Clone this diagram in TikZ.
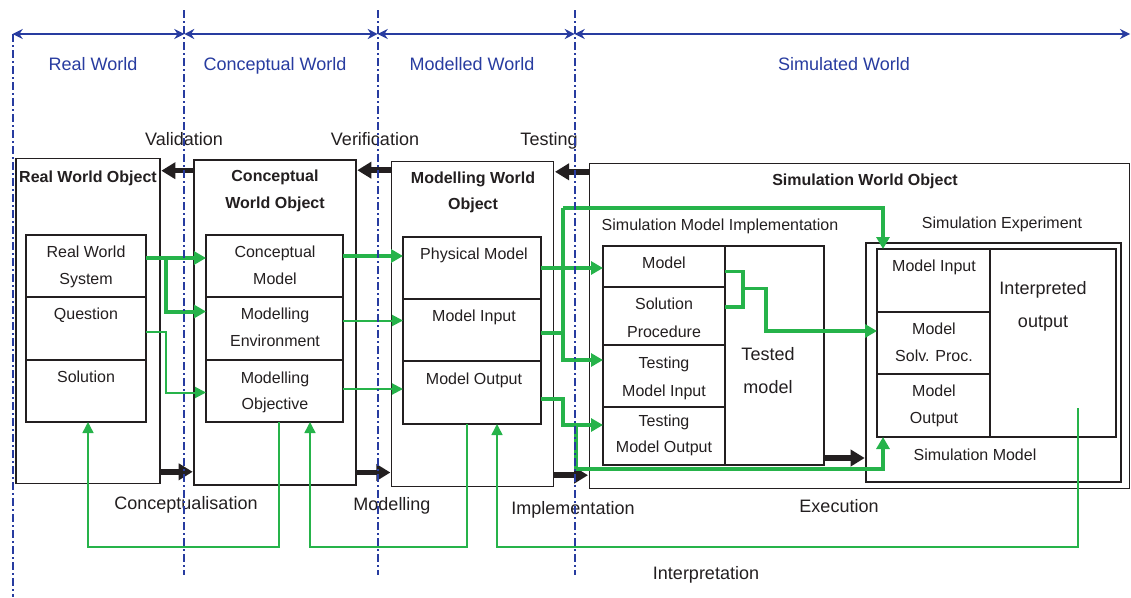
\documentclass[tikz,border=0pt]{standalone}
\usepackage{fontspec}
\setmainfont{Liberation Sans}
\usetikzlibrary{arrows.meta}
\definecolor{wblue}{RGB}{40,60,160}
\definecolor{wgreen}{RGB}{38,179,74}
\definecolor{ink}{RGB}{35,31,32}
\tikzset{
 bx/.style={draw=ink, line width=1.3pt, inner sep=0pt, outer sep=0pt, fill=white},
 lbl/.style={inner sep=0pt, anchor=base, text=ink, yshift=-5.7pt, font=\fontsize{16}{19}\selectfont},
 big/.style={inner sep=0pt, anchor=base, text=ink, yshift=-6.5pt, font=\fontsize{18}{21}\selectfont},
 bold/.style={lbl, font=\fontsize{16}{19}\selectfont\bfseries},
 world/.style={big, text=wblue},
 divider/.style={draw=wblue, line width=1.8pt, dash pattern=on 8pt off 3pt on 2pt off 3pt},
 span/.style={draw=wblue, line width=1.8pt, {Stealth[length=10pt,width=10pt]}-{Stealth[length=10pt,width=10pt]}},
 flow/.style={draw=ink, line width=5.5pt, -{Triangle[length=14pt,width=16pt,sep=1.3pt]}},
 gthick/.style={draw=wgreen, line width=4pt, -{Triangle[length=12pt,width=13pt]}},
 gmid/.style={draw=wgreen, line width=3.2pt, -{Triangle[length=12pt,width=13pt]}},
 gthin/.style={draw=wgreen, line width=2pt, -{Triangle[length=11pt,width=11pt]}},
 gfine/.style={draw=wgreen, line width=1.5pt, -{Triangle[length=11pt,width=11pt]}},
}
\newcommand\bxn[5]{\node[bx, minimum width={#4pt-#2pt}, minimum height={#5pt-#3pt}] (#1) at ({(#2+#4)/2},{(#3+#5)/2}) {};}
\begin{document}
\begin{tikzpicture}[x=1pt,y=-1pt]
\useasboundingbox[fill=white] (0,0) rectangle (1131,597);

% ---- world boxes
\bxn{rwo}{16}{158.3}{160}{483.3}
\bxn{cwo}{194}{160}{356}{485}
\bxn{mwo}{391.7}{161.7}{553.7}{486.7}
\bxn{swo}{589.3}{163.3}{1129.3}{488.3}

% Real world cells
\bxn{rws}{26}{235}{146}{297}
\bxn{rq}{26}{297}{146}{360}
\bxn{rs}{26}{360}{146}{422}
% Conceptual cells
\bxn{cm}{206}{235}{343}{297}
\bxn{me}{206}{297}{343}{360}
\bxn{mo}{206}{360}{343}{422}
% Modelling cells
\bxn{pm}{403}{237}{541}{299}
\bxn{mi}{403}{299}{541}{361}
\bxn{mou}{403}{361}{541}{424}
% Simulation implementation
\bxn{tm}{603}{246}{824}{465}
\bxn{smm}{603}{246}{725}{287}
\bxn{ssp}{603}{287}{725}{345}
\bxn{stmi}{603}{345}{725}{407}
\bxn{stmo}{603}{407}{725}{465}
% Simulation experiment
\bxn{se}{866}{243}{1121}{482}
\bxn{smo}{877}{249}{1116}{437}
\bxn{smi}{877}{249}{990}{312}
\bxn{sms}{877}{312}{990}{374}
\bxn{smout}{877}{374}{990}{437}

% ---- titles
\node[bold] (trwo) at (88,177) {Real World Object};
\node[bold] (tcwo1) at (275,176) {Conceptual};
\node[bold] (tcwo2) at (275,203) {World Object};
\node[bold] (tmwo1) at (473,178) {Modelling World};
\node[bold] (tmwo2) at (473,204) {Object};
\node[bold] (tswo) at (865,180) {Simulation World Object};

% ---- cell texts
\node[lbl] (t1) at (86,252) {Real World};
\node[lbl] (t2) at (86,279) {System};
\node[lbl] (t3) at (86,314) {Question};
\node[lbl] (t4) at (86,377) {Solution};
\node[lbl] (t5) at (275,252) {Conceptual};
\node[lbl] (t6) at (275,279) {Model};
\node[lbl] (t7) at (275,314) {Modelling};
\node[lbl] (t8) at (275,341) {Environment};
\node[lbl] (t9) at (275,378) {Modelling};
\node[lbl] (t10) at (275,404) {Objective};
\node[lbl] (t11) at (474,254) {Physical Model};
\node[lbl] (t12) at (474,316) {Model Input};
\node[lbl] (t13) at (474,379) {Model Output};
\node[lbl] (t14) at (720,225) {Simulation Model Implementation};
\node[lbl] (t15) at (664,263) {Model};
\node[lbl] (t16) at (664,304) {Solution};
\node[lbl] (t17) at (664,332) {Procedure};
\node[lbl] (t18) at (664,363) {Testing};
\node[lbl] (t19) at (664,391) {Model Input};
\node[lbl] (t20) at (664,421) {Testing};
\node[lbl] (t21) at (664,447) {Model Output};
\node[big] (t22) at (768,354) {Tested};
\node[big] (t23) at (768,387) {model};
\node[lbl] (t24) at (1002,223) {Simulation Experiment};
\node[lbl] (t25) at (934,266) {Model Input};
\node[lbl] (t26) at (934,329) {Model};
\node[lbl] (t27) at (934,356) {Solv. Proc.};
\node[lbl] (t28) at (934,391) {Model};
\node[lbl] (t29) at (934,418) {Output};
\node[big] (t30) at (1043,288) {Interpreted};
\node[big] (t31) at (1043,321) {output};
\node[lbl] (t32) at (975,455) {Simulation Model};

% ---- labels
\node[world] (w1) at (93,64) {Real World};
\node[world] (w2) at (275,64) {Conceptual World};
\node[world] (w3) at (472,64) {Modelled World};
\node[world] (w4) at (844,64) {Simulated World};
\node[big] (l1) at (184,139) {Validation};
\node[big] (l2) at (375,139) {Verification};
\node[big] (l3) at (549,139) {Testing};
\node[big] (l4) at (186,503) {Conceptualisation};
\node[big] (l5) at (392,504) {Modelling};
\node[big] (l6) at (573,508) {Implementation};
\node[big] (l7) at (839,506) {Execution};
\node[big] (l8) at (706,573) {Interpretation};

% ---- black flows
\draw[flow] ([yshift=-10.7pt]cwo.north west) -- ([yshift=-10.7pt]cwo.north west -| rwo.east);
\draw[flow] ([yshift=-8.5pt]mwo.north west) -- ([yshift=-8.5pt]mwo.north west -| cwo.east);
\draw[flow] ([yshift=-8.5pt]swo.north west) -- ([yshift=-8.5pt]swo.north west -| mwo.east);
\draw[flow] ([yshift=11.5pt]rwo.south east) -- ([yshift=11.5pt]rwo.south east -| cwo.west);
\draw[flow] ([yshift=12.5pt]cwo.south east) -- ([yshift=12.5pt]cwo.south east -| mwo.west);
\draw[flow] ([yshift=11.5pt]mwo.south east) -- ([yshift=11.5pt]mwo.south east -| swo.west);
\draw[flow] ([yshift=7pt]tm.south east) -- ([yshift=7pt]tm.south east -| se.west);

% ---- green connectors
\coordinate (j1) at (166,258);
\coordinate (j2) at (166,392.5);
\draw[gthick] ([yshift=8pt]rws.east) -- ([yshift=8pt]rws.east -| cm.west);
\draw[gthick] (j1) |- ([yshift=17pt]me.west);
\draw[gthin] ([yshift=-3pt]rq.east) -| (j2) -- (j2 -| mo.west);
\draw[gthick] ([yshift=10pt]cm.east) -- ([yshift=10pt]cm.east -| pm.west);
\draw[gthin] ([yshift=8pt]me.east) -- ([yshift=8pt]me.east -| mi.west);
\draw[gthin] ([yshift=2pt]mo.east) -- ([yshift=2pt]mo.east -| mou.west);

\draw[gthick] (pm.east) -- (pm.east -| smm.west);
\coordinate (k1) at (563,208);
\coordinate (k2) at (883,208);
\draw[gthick,-] ([yshift=-3pt]mi.east) -- ([yshift=-3pt]mi.east -| k1);
\draw[gthick] (k1) |- ([yshift=16pt]stmi.west);
\draw[gthick] (k1) -- (k2) -- (k2 |- smi.north);
\coordinate (k3) at (563,425);
\coordinate (k4) at (576,425);
\coordinate (k5) at (576,469);
\coordinate (k6) at (883,469);
\draw[gthick] ([yshift=-6pt]mou.east) -| (k3) -- (k3 -| stmo.west);
\draw[gthick] (k4) -- (k5) -- (k6) -- (k6 |- smo.south);
\coordinate (k7) at (743,271.5);
\coordinate (k8) at (743,307);
\coordinate (k9) at (743,288.3);
\coordinate (k10) at (766,288.3);
\draw[gmid,-] ([yshift=-5pt]smm.east) -- (k7) -- (k8) -- ([yshift=9pt]ssp.east);
\draw[gmid] (k9) -- (k10) |- ([yshift=12pt]sms.west);

% feedback loops
\coordinate (f1) at (279,547);
\coordinate (f2) at (88,547);
\coordinate (f3) at (467,547);
\coordinate (f4) at (310,547);
\coordinate (f5) at (1078,408);
\coordinate (f6) at (1078,547);
\coordinate (f7) at (497,547);
\draw[gfine] (f1 |- mo.south) -- (f1) -- (f2) -- (f2 |- rs.south);
\draw[gfine] (f3 |- mou.south) -- (f3) -- (f4) -- (f4 |- mo.south);
\draw[gfine] (f5) -- (f6) -- (f7) -- (f7 |- mou.south);

% ---- world spans and dividers
\coordinate (d0) at (12.7,34);
\coordinate (d1) at (184.3,34);
\coordinate (d2) at (377.7,34);
\coordinate (d3) at (574.7,34);
\coordinate (d4) at (1130,34);
\draw[span] (d0) -- (d1);
\draw[span] (d1) -- (d2);
\draw[span] (d2) -- (d3);
\draw[span] (d3) -- (d4);
\draw[divider] (12.7,34) -- (12.7,597);
\draw[divider] (184.3,10) -- (184.3,575);
\draw[divider] (377.7,10) -- (377.7,575);
\draw[divider] (574.7,10) -- (574.7,575);
\end{tikzpicture}
\end{document}
